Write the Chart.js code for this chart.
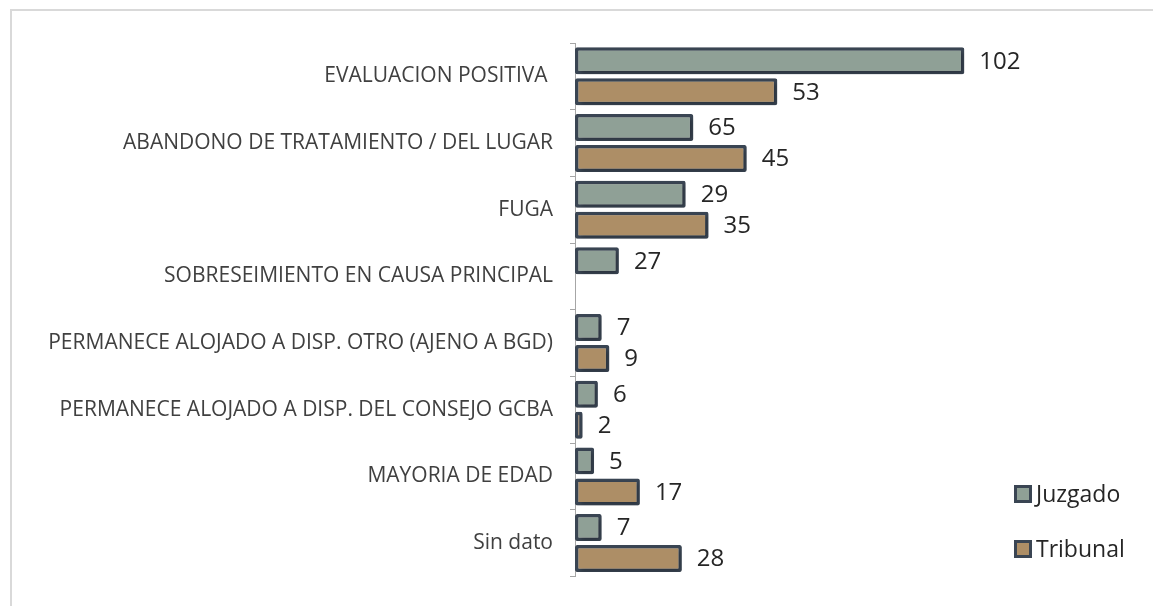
<!DOCTYPE html>
<html>
<head>
<meta charset="utf-8">
<script src="https://cdn.jsdelivr.net/npm/chart.js@4/dist/chart.umd.min.js"></script>
<style>
  html, body { margin: 0; padding: 0; background: #ffffff; overflow: hidden; }
  #wrap { position: relative; width: 1153px; height: 606px; }
  #frame { position: absolute; left: 10px; top: 9px; width: 1300px; height: 800px; border: 2px solid #d9d9d9; box-sizing: border-box; }
  canvas { position: absolute; left: 0; top: 0; }
</style>
</head>
<body>
<div id="wrap">
  <div id="frame"></div>
  <canvas id="c" width="1153" height="606"></canvas>
</div>
<script>
// Categories (top to bottom)
const categories = [
  "EVALUACION POSITIVA ",
  "ABANDONO DE TRATAMIENTO / DEL LUGAR",
  "FUGA",
  "SOBRESEIMIENTO EN CAUSA PRINCIPAL",
  "PERMANECE ALOJADO A DISP. OTRO (AJENO A BGD)",
  "PERMANECE ALOJADO A DISP. DEL CONSEJO GCBA",
  "MAYORIA DE EDAD",
  "Sin dato"
];
const seriesNames = ["Juzgado", "Tribunal"];
// Bar lengths as drawn in the picture
const juzgadoBars = [102, 31, 29, 11.5, 7, 6, 5, 7];
const tribunalBars = [53, 45, 35, null, 9, 2, 17, 28];
// Value labels as printed in the picture
const juzgadoLabels = ["102", "65", "29", "27", "7", "6", "5", "7"];
const tribunalLabels = ["53", "45", "35", null, "9", "2", "17", "28"];
const xMax = 120;

const FONT = "'Open Sans', 'DejaVu Sans', sans-serif";

const shadowPlugin = {
  id: 'barShadow',
  beforeDatasetsDraw(chart) {
    const ctx = chart.ctx;
    ctx.save();
    ctx.shadowColor = 'rgba(0,0,0,0.28)';
    ctx.shadowBlur = 4;
    ctx.shadowOffsetX = 2;
    ctx.shadowOffsetY = 2;
  },
  afterDatasetsDraw(chart) {
    chart.ctx.restore();
  }
};

const labelPlugin = {
  id: 'valueLabels',
  afterDatasetsDraw(chart) {
    const ctx = chart.ctx;
    const labelSets = [juzgadoLabels, tribunalLabels];
    ctx.save();
    ctx.font = "24px " + FONT;
    ctx.fillStyle = '#262626';
    ctx.textAlign = 'left';
    ctx.textBaseline = 'middle';
    chart.data.datasets.forEach((ds, di) => {
      const meta = chart.getDatasetMeta(di);
      meta.data.forEach((el, i) => {
        const txt = labelSets[di][i];
        if (txt === null || ds.data[i] === null) return;
        ctx.fillText(txt, el.x + 15, el.y + 1);
      });
    });
    ctx.restore();
  }
};

const legendPlugin = {
  id: 'customLegend',
  afterDraw(chart) {
    const ctx = chart.ctx;
    ctx.save();
    const x0 = 1014, ys = [494, 549];
    chart.data.datasets.forEach((ds, i) => {
      const y = ys[i];
      ctx.fillStyle = ds.backgroundColor;
      ctx.strokeStyle = ds.borderColor;
      ctx.lineWidth = 3;
      ctx.fillRect(x0 + 1.5, y - 7.5, 15, 15);
      ctx.strokeRect(x0 + 1.5, y - 7.5, 15, 15);
      ctx.font = "23px " + FONT;
      ctx.fillStyle = '#262626';
      ctx.textAlign = 'left';
      ctx.textBaseline = 'middle';
      ctx.fillText(ds.label, x0 + 22, y + 1);
    });
    ctx.restore();
  }
};

new Chart(document.getElementById('c'), {
  type: 'bar',
  data: {
    labels: categories,
    datasets: [
      {
        label: seriesNames[0],
        data: juzgadoBars,
        backgroundColor: '#8fa096',
        borderColor: '#3a4553',
        borderWidth: 3.5,
        borderSkipped: false,
        borderRadius: 2,
        categoryPercentage: 0.93,
        barPercentage: 0.87
      },
      {
        label: seriesNames[1],
        data: tribunalBars,
        backgroundColor: '#ad8e66',
        borderColor: '#3a4553',
        borderWidth: 3.5,
        borderSkipped: false,
        borderRadius: 2,
        categoryPercentage: 0.93,
        barPercentage: 0.87
      }
    ]
  },
  options: {
    indexAxis: 'y',
    responsive: false,
    animation: false,
    devicePixelRatio: 1,
    layout: { padding: { left: 0, right: 1153 - 1033, top: 43, bottom: 26 } },
    plugins: {
      legend: { display: false },
      tooltip: { enabled: false }
    },
    scales: {
      x: {
        display: false,
        min: 0,
        max: xMax
      },
      y: {
        afterFit(scale) { scale.width = 575; },
        grid: {
          display: true,
          drawOnChartArea: false,
          drawTicks: true,
          tickLength: 5,
          color: '#a6a6a6',
          lineWidth: 1
        },
        border: { display: true, color: '#a6a6a6', width: 1 },
        ticks: {
          color: '#404040',
          font: { family: FONT, size: 21 },
          padding: 17,
          autoSkip: false
        }
      }
    }
  },
  plugins: [shadowPlugin, labelPlugin, legendPlugin]
});
</script>
</body>
</html>
